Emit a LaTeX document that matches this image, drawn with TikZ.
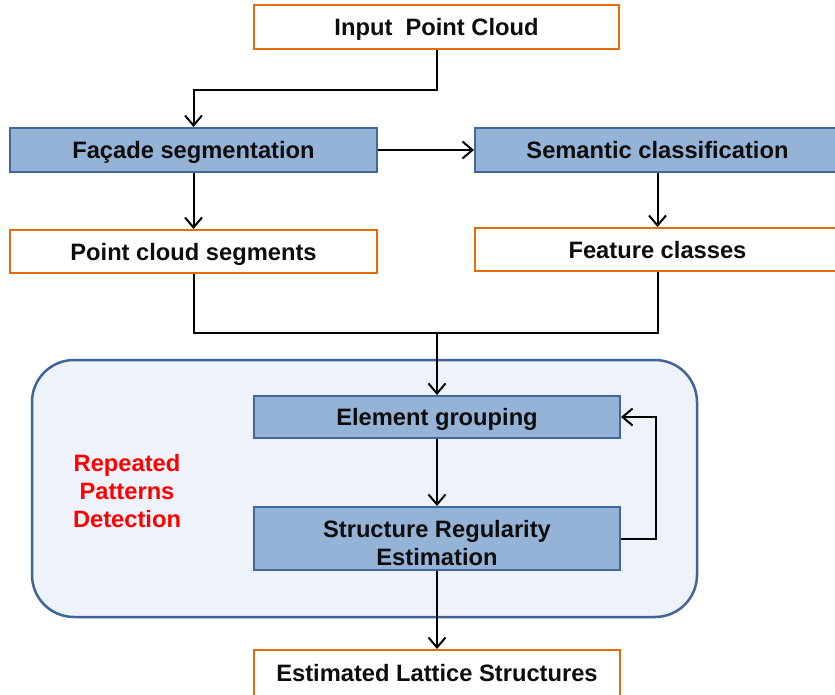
\documentclass[tikz,border=0pt]{standalone}
\usepackage{fontspec}
\setmainfont{Liberation Sans}
\usetikzlibrary{arrows.meta}
\definecolor{boxblue}{HTML}{95B3D7}
\definecolor{boxedge}{HTML}{41689A}
\definecolor{outorange}{HTML}{E46C0A}
\definecolor{regionfill}{HTML}{EEF2FA}
\definecolor{regionedge}{HTML}{3F6496}
\definecolor{labelred}{HTML}{FF0000}
\definecolor{inktext}{HTML}{0D0D0D}
\tikzset{
  base/.style={font=\fontsize{23.7}{28}\selectfont\bfseries, text=inktext, align=center,
    inner sep=0pt, line width=2pt, minimum height=44pt},
  oneline/.style={text height=17pt, text depth=0pt},
  procbox/.style={base, draw=boxedge, fill=boxblue},
  databox/.style={base, oneline, draw=outorange, fill=white},
  link/.style={line width=2pt, draw=black},
  flow/.style={link, -{Straight Barb[length=10pt,width=17pt,line width=2pt]}},
}
\begin{document}
\begin{tikzpicture}[x=1pt, y=-1pt]
  \useasboundingbox (0,0) rectangle (835,694);

  % container of the pattern detection stage
  \node (region) [draw=regionedge, fill=regionfill, line width=2.5pt, rounded corners=42pt,
    minimum width=665pt, minimum height=257pt, inner sep=0pt] at (364.5,488.5) {};
  \node (rlabel) [font=\fontsize{23.7}{28}\selectfont\bfseries, text=labelred, align=center]
    at (127,491) {Repeated\\Patterns\\Detection};

  % inputs and outputs
  \node (input) [databox, minimum width=365pt] at (436.5,27) {Input\ \ Point Cloud};
  \node (pcs)   [databox, minimum width=367pt, minimum height=43pt] at (193.5,251.5) {Point cloud segments};
  \node (fc)    [databox, minimum width=365pt, minimum height=43pt] at (657.5,249.5) {Feature classes};
  \node (lat)   [databox, text depth=4pt, minimum width=366pt, minimum height=50pt] at (437,675) {Estimated Lattice Structures};

  % processing steps
  \node (facade) [procbox, oneline, minimum width=367pt] at (193.5,150) {Façade segmentation};
  \node (sem)    [procbox, oneline, minimum width=365pt] at (657.5,150) {Semantic classification};
  \node (eg)     [procbox, oneline, minimum width=366pt, minimum height=42pt] at (437,417) {Element grouping};
  \node (sre)    [procbox, text height=53pt, text depth=0pt, minimum width=366pt, minimum height=63pt]
    at (437,538.5) {Structure Regularity\\Estimation};

  % connectors
  \draw[flow] (input.south) -- ++(0,40) -| (facade.north);
  \draw[flow] (facade.east) -- (sem.west);
  \draw[flow] (facade.south) -- (pcs.north);
  \draw[flow] (sem.south) -- (fc.north);
  \coordinate (join) at (437,333);
  \draw[link] (pcs.south) |- (join) -| (fc.south);
  \draw[flow] (join) -- (eg.north);
  \draw[flow] (eg.south) -- (sre.north);
  \draw[flow] (sre.east) -- ++(35,0) |- (eg.east);
  \draw[flow] (sre.south) -- (lat.north);
\end{tikzpicture}
\end{document}
